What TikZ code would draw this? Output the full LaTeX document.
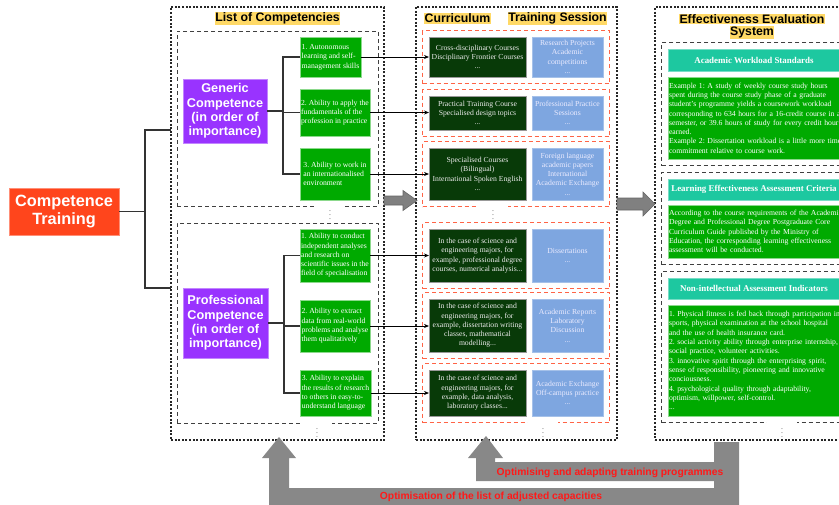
\documentclass[tikz,border=0pt]{standalone}
\usepackage{fontspec}
\setmainfont{Liberation Serif}
\setsansfont{Liberation Sans}
\usetikzlibrary{arrows.meta,fit}
\definecolor{trainred}{RGB}{255,69,28}
\definecolor{grouppurple}{RGB}{153,51,255}
\definecolor{skillgreen}{RGB}{0,170,0}
\definecolor{coursegreen}{RGB}{8,58,8}
\definecolor{sessionblue}{RGB}{126,166,224}
\definecolor{headteal}{RGB}{29,200,160}
\definecolor{rowred}{RGB}{255,100,70}
\definecolor{titleyellow}{RGB}{255,217,102}
\definecolor{blockgray}{RGB}{128,128,128}
\definecolor{loopgray}{RGB}{136,136,136}
\definecolor{labelred}{RGB}{255,25,25}
\newcommand{\boxfont}{\fontsize{7.7}{9.3}\selectfont}
\frenchspacing

\begin{document}
\begin{tikzpicture}[x=1pt,y=-1pt,
	every node/.style={inner sep=1pt, outer sep=0pt},
	outerbox/.style={draw=black!85, line width=1.3pt, dash pattern=on 2pt off 1.6pt},
	innerbox/.style={draw=black!75, line width=0.9pt, dash pattern=on 4pt off 3pt, inner sep=6.5pt},
	rowbox/.style={draw=rowred, line width=0.9pt, dash pattern=on 4pt off 3pt, inner sep=6.5pt},
	title/.style={fill=titleyellow, font=\sffamily\bfseries\fontsize{12.3}{14}\selectfont, inner sep=0.6pt},
	group/.style={fill=grouppurple, draw=grouppurple!60!white, text=white, align=center, font=\sffamily\bfseries\fontsize{12.7}{14.3}\selectfont},
	skill/.style={fill=skillgreen, draw=skillgreen!45!white, text=white, align=left, font=\boxfont},
	course/.style={fill=coursegreen, draw=black!40, text=white!92!black, align=center, font=\boxfont, minimum width=97pt},
	session/.style={fill=sessionblue, draw=sessionblue!70!white, text=white!92!blue, align=center, font=\boxfont, minimum width=71pt},
	head/.style={fill=headteal, draw=headteal!60!white, text=white, font=\bfseries\fontsize{8.9}{10}\selectfont, minimum width=172pt, minimum height=21.5pt},
	note/.style={fill=skillgreen, draw=skillgreen!45!white, text=white, align=left, font=\boxfont, text width=185pt, anchor=west},
	tree/.style={draw=black!80, line width=1.1pt},
	link/.style={draw=black, line width=0.8pt, -{Stealth[length=5pt,width=4pt]}},
	block/.style={fill=blockgray, draw=black!60, line width=0.6pt},
	loop/.style={fill=loopgray},
	looplabel/.style={text=labelred, font=\sffamily\bfseries\fontsize{10.3}{12}\selectfont},
	dots/.style={fill=white, minimum width=30pt, minimum height=17pt, inner sep=0pt, text=black!70, font=\boxfont}]
	\path[use as bounding box] (0,0) rectangle (839,504);

	\node[outerbox, minimum width=213pt, minimum height=433pt] (list) at (277.5,223.5) {};
	\node[outerbox, minimum width=201pt, minimum height=433pt] (curr) at (516.5,223.5) {};
	\node[outerbox, minimum width=215pt, minimum height=433pt] (eval) at (762.5,223.5) {};
	\node[title] (tlist) at (277.5,18.5) {List of Competencies};
	\node[title] (tcurr) at (457.5,18.5) {Curriculum};
	\node[title] (tsess) at (557.5,18.5) {Training Session};
	\node[title] (teval) at (752,19) {Effectiveness Evaluation};
	\node[title] (tsys) at (752,32.5) {System};

	\node[fill=trainred, draw=trainred!60!white, text=white, align=center, font=\sffamily\bfseries\fontsize{16.3}{17.5}\selectfont, minimum width=110pt, minimum height=47pt] (train) at (64,211.5) {Competence\\Training};

	\node[innerbox, minimum width=201pt, minimum height=175pt] (genbox) at (277.5,118.5) {};
	\node[innerbox, minimum width=201pt, minimum height=200pt] (probox) at (277.5,323) {};
	\node[group, minimum width=84pt, minimum height=64pt] (gen) at (225,111) {Generic\\Competence\\(in order of\\importance)};
	\node[group, minimum width=85pt, minimum height=70pt] (pro) at (225.5,323) {Professional\\Competence\\(in order of\\importance)};

	\node[skill, minimum width=61pt, minimum height=40pt] (g1) at (330.5,57) {1. Autonomous\\learning and self-\\management skills};
	\node[skill, minimum width=70pt, minimum height=47pt] (g2) at (335,112.5) {2. Ability to apply the\\fundamentals of the\\profession in practice};
	\node[skill, minimum width=70pt, minimum height=52pt] (g3) at (335,174) {3. Ability to work in\\an internationalised\\environment};
	\node[skill, minimum width=70pt, minimum height=53pt] (p1) at (335,255.5) {1. Ability to conduct\\independent analyses\\and research on\\scientific issues in the\\field of specialisation};
	\node[skill, minimum width=70pt, minimum height=52pt] (p2) at (335,326) {2. Ability to extract\\data from real-world\\problems and analyse\\them qualitatively};
	\node[skill, minimum width=71pt, minimum height=46pt] (p3) at (335.5,393) {3. Ability to explain\\the results of research\\to others in easy-to-\\understand language};

	\draw[tree] (train.east) -- ++(26,0) coordinate (fork);
	\draw[tree] (list.west |- 0,130) -| (fork) |- (list.west |- 0,288);
	\draw[tree] (gen.east) -- ++(16,0) coordinate (genfork);
	\draw[tree] (g1.west) -| (genfork) |- (g3.west);
	\draw[tree] (g2.west -| genfork) -- (g2.west);
	\draw[tree] (pro.east) -- ++(16,0) coordinate (profork);
	\draw[tree] (p1.west) -| (profork) |- (p3.west);
	\draw[tree] (p2.west -| profork) -- (p2.west);

	\node[course, minimum height=40pt] (c1) at (477.5,57) {Cross-disciplinary Courses\\Disciplinary Frontier Courses\\...};
	\node[session, minimum height=40pt] (b1) at (567.5,57) {Research Projects\\Academic\\competitions\\...};
	\node[course, minimum height=34pt] (c2) at (477.5,113) {Practical Training Course\\Specialised design topics\\...};
	\node[session, minimum height=34pt] (b2) at (567.5,113) {Professional Practice\\Sessions\\...};
	\node[course, minimum height=52pt] (c3) at (477.5,174) {Specialised Courses\\(Bilingual)\\International Spoken English\\...};
	\node[session, minimum height=52pt] (b3) at (567.5,174) {Foreign language\\academic papers\\International\\Academic Exchange\\...};
	\node[course, minimum height=53pt] (c4) at (477.5,255.5) {In the case of science and\\engineering majors, for\\example, professional degree\\courses, numerical analysis...};
	\node[session, minimum height=53pt] (b4) at (567.5,255.5) {Dissertations\\...};
	\node[course, minimum height=53pt] (c5) at (477.5,325.5) {In the case of science and\\engineering majors, for\\example, dissertation writing\\classes, mathematical\\modelling...};
	\node[session, minimum height=53pt] (b5) at (567.5,325.5) {Academic Reports\\Laboratory\\Discussion\\...};
	\node[course, minimum height=46pt] (c6) at (477.5,393) {In the case of science and\\engineering majors, for\\example, data analysis,\\laboratory classes...};
	\node[session, minimum height=46pt] (b6) at (567.5,393) {Academic Exchange\\Off-campus practice\\...};
	\foreach \i in {1,...,6}
		\node[rowbox, fit=(c\i)(b\i)] (row\i) {};

	\draw[link] (g1.east) -- (g1.east -| c1.west);
	\draw[link] (g2.east) -- (g2.east -| c2.west);
	\draw[link] (g3.east) -- (g3.east -| c3.west);
	\draw[link] (p1.east) -- (p1.east -| c4.west);
	\draw[link] (p2.east) -- (p2.east -| c5.west);
	\draw[link] (p3.east) -- (p3.east -| c6.west);

	\node[head] (t1) at (754,60) {Academic Workload Standards};
	\node[note, minimum height=82pt] (e1) at (668,118) {Example 1: A study of weekly course study hours\\spent during the course study phase of a graduate\\student's programme yields a coursework workload\\corresponding to 634 hours for a 16-credit course in a\\semester, or 39.6 hours of study for every credit hour\\earned.\\Example 2: Dissertation workload is a little more time\\commitment relative to course work.};
	\node[head] (t2) at (754,189.5) {Learning Effectiveness Assessment Criteria};
	\node[note, minimum height=53pt] (e2) at (668,231.5) {According to the course requirements of the Academic\\Degree and Professional Degree Postgraduate Core\\Curriculum Guide published by the Ministry of\\Education, the corresponding learning effectiveness\\assessment will be conducted.};
	\node[head] (t3) at (754,288.5) {Non-intellectual Assessment Indicators};
	\node[note, minimum height=111pt] (e3) at (668,360.5) {1. Physical fitness is fed back through participation in\\sports, physical examination at the school hospital\\and the use of health insurance card.\\2. social activity ability through enterprise internship,\\social practice, volunteer activities.\\3. innovative spirit through the enterprising spirit,\\sense of responsibility, pioneering and innovative\\conciousness.\\4. psychological quality through adaptability,\\optimism, willpower, self-control.\\...};
	\foreach \i in {1,2,3}
		\node[innerbox, fit=(t\i)(e\i)] (std\i) {};

	\node[dots] (gendots) at (330,212.5) {\vdots};
	\node[dots] (prodots) at (317,430) {\vdots};
	\node[dots] (rowdots) at (493,212.5) {\vdots};
	\node[dots] (currdots) at (543,430) {\vdots};
	\node[dots] (evaldots) at (782,430) {\vdots};

	\path[block] (384,196) -- (403,196) -- (403,190.5) -- (417,200.5) -- (403,210.5) -- (403,205) -- (384,205) -- cycle;
	\path[block] (617,198) -- (643,198) -- (643,192) -- (655,204) -- (643,216) -- (643,210) -- (617,210) -- cycle;

	\fill[loop] (714,442) -- (739,442) -- (739,510) -- (269,510) -- (269,458) -- (262,458) -- (279,437) -- (296,458) -- (289,458) -- (289,488) -- (714,488) -- cycle;
	\fill[loop] (714,462) -- (714,481) -- (476,481) -- (476,458) -- (468,458) -- (486,436) -- (503,458) -- (495,458) -- (495,462) -- cycle;
	\node[looplabel] (adapt) at (610,473) {Optimising and adapting training programmes};
	\node[looplabel] (adjust) at (491,497) {Optimisation of the list of adjusted capacities};
\end{tikzpicture}
\end{document}
